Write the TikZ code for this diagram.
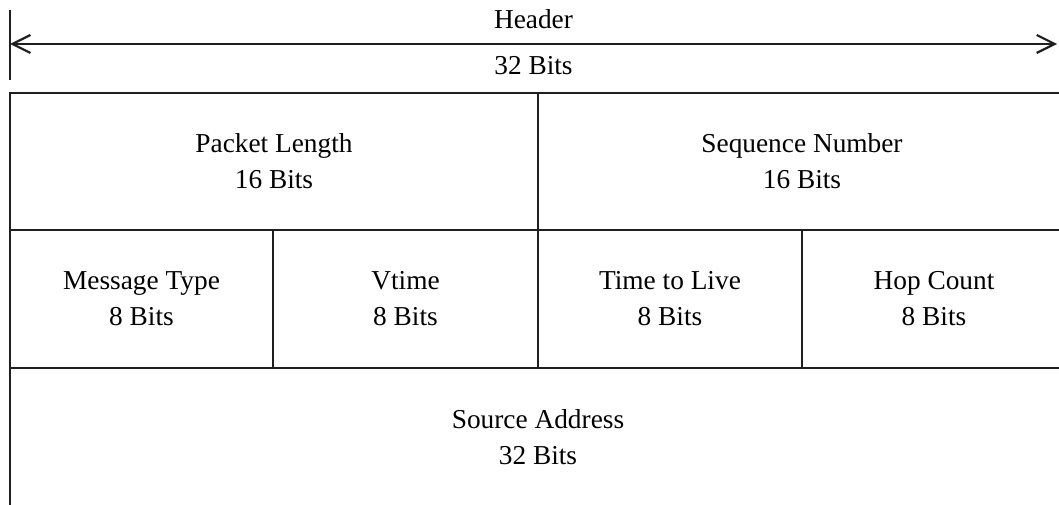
\documentclass[tikz,border=0pt]{standalone}
\usepackage{fontspec}
\setmainfont{Liberation Serif}
\usetikzlibrary{arrows.meta}
\begin{document}
\begin{tikzpicture}[x=0.75pt,y=-0.75pt,
  rule/.style={line width=1.9pt, draw=black!88},
  cell/.style={rule, rectangle, inner sep=0pt, outer sep=0pt, align=center,
    font=\fontsize{20.5}{27}\selectfont},
  lbl/.style={font=\fontsize{20.5}{27}\selectfont, anchor=base, inner sep=0pt}]
\useasboundingbox (0,0) rectangle (1059,505);
\clip (0,0) rectangle (1059,505);
% header dimension
\coordinate (tickTop) at (10,10);
\coordinate (tickBot) at (10,80);
\coordinate (arrL) at (10,44);
\coordinate (arrR) at (1057,44);
\draw[rule] (tickTop) -- (tickBot);
\draw[line width=1.6pt, draw=black!88, {Straight Barb[length=13.5pt,width=13.5pt]}-{Straight Barb[length=13.5pt,width=13.5pt]}] (arrL) -- (arrR);
\node[lbl] (header) at (533.5,29) {Header};
\node[lbl] (bits) at (533.5,75) {32 Bits};
% row 1
\node[cell, minimum width=396pt, minimum height=102.75pt] (plen) at (274,161.5) {Packet Length\\16 Bits};
\node[cell, minimum width=396pt, minimum height=102.75pt] (seq) at (802,161.5) {Sequence Number\\16 Bits};
% row 2
\node[cell, minimum width=197.25pt, minimum height=103.5pt] (mtype) at (141.5,299) {Message Type\\8 Bits};
\node[cell, minimum width=198.75pt, minimum height=103.5pt] (vtime) at (405.5,299) {Vtime\\8 Bits};
\node[cell, minimum width=198pt, minimum height=103.5pt] (ttl) at (670,299) {Time to Live\\8 Bits};
\node[cell, minimum width=198pt, minimum height=103.5pt] (hop) at (934,299) {Hop Count\\8 Bits};
% row 3
\node[cell, minimum width=792pt, minimum height=104.25pt] (src) at (538,437.5) {Source Address\\32 Bits};
\end{tikzpicture}
\end{document}
